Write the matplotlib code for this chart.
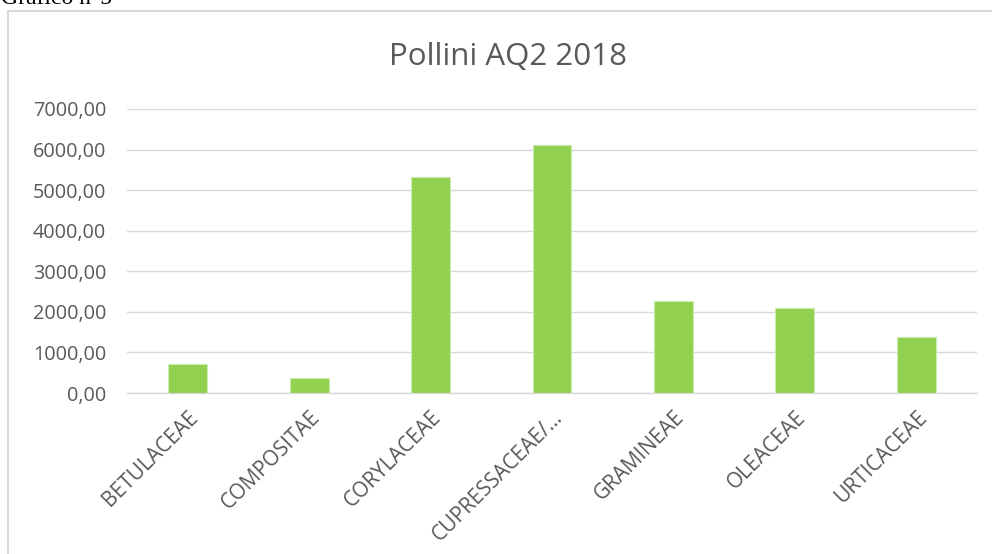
import matplotlib
matplotlib.use("Agg")
import matplotlib.pyplot as plt
from matplotlib.patches import Rectangle

categories = ["BETULACEAE", "COMPOSITAE", "CORYLACEAE", "CUPRESSACEAE/…",
              "GRAMINEAE", "OLEACEAE", "URTICACEAE"]
values = [710, 370, 5320, 6110, 2260, 2095, 1375]
yticks = [0, 1000, 2000, 3000, 4000, 5000, 6000, 7000]
ytick_labels = ["0,00", "1000,00", "2000,00", "3000,00", "4000,00",
                "5000,00", "6000,00", "7000,00"]

W, H = 992, 554
fig = plt.figure(figsize=(W / 100, H / 100), dpi=100)
fig.patch.set_facecolor("white")

# outer chart frame
fig.patches.append(Rectangle((8 / W, -0.01), 1.0, 1.01 - 11 / H, transform=fig.transFigure,
                             fill=False, edgecolor="#d9d9d9", linewidth=1.5))
fig.text(1 / W, 1 - 4 / H, "Grafico n°5", family="Liberation Serif", fontsize=17,
         color="black", ha="left", va="baseline")

ax = fig.add_axes([127 / W, 1 - 393 / H, (977 - 127) / W, (393 - 109) / H])
x = range(len(categories))
ax.bar(x, values, width=0.32, color="#92d050", edgecolor="#c9ecaf", linewidth=0.8, zorder=3)
ax.set_xlim(-0.5, len(categories) - 0.5)
ax.set_ylim(0, 7000)
ax.set_yticks(yticks)
ax.set_yticklabels(ytick_labels)
ax.yaxis.grid(True, color="#d9d9d9", linewidth=1.0, zorder=0)
ax.set_axisbelow(True)
for s in ["top", "right", "left"]:
    ax.spines[s].set_visible(False)
ax.spines["bottom"].set_color("#d9d9d9")
ax.spines["bottom"].set_linewidth(1.0)
ax.tick_params(axis="x", length=0, colors="#595959", labelsize=15, pad=10)
ax.tick_params(axis="y", length=0, colors="#595959", labelsize=14.3, pad=15)
ax.set_xticks(list(x))
ax.set_xticklabels(categories, rotation=45, ha="right", rotation_mode="anchor",
                   family="Open Sans")
for lab in ax.get_yticklabels():
    lab.set_family("Open Sans")

fig.text(508 / W, 1 - 65 / H, "Pollini AQ2 2018", family="Open Sans", fontsize=22.5,
         color="#595959", ha="center", va="baseline")

fig.savefig("out.png", dpi=100, facecolor="white")
